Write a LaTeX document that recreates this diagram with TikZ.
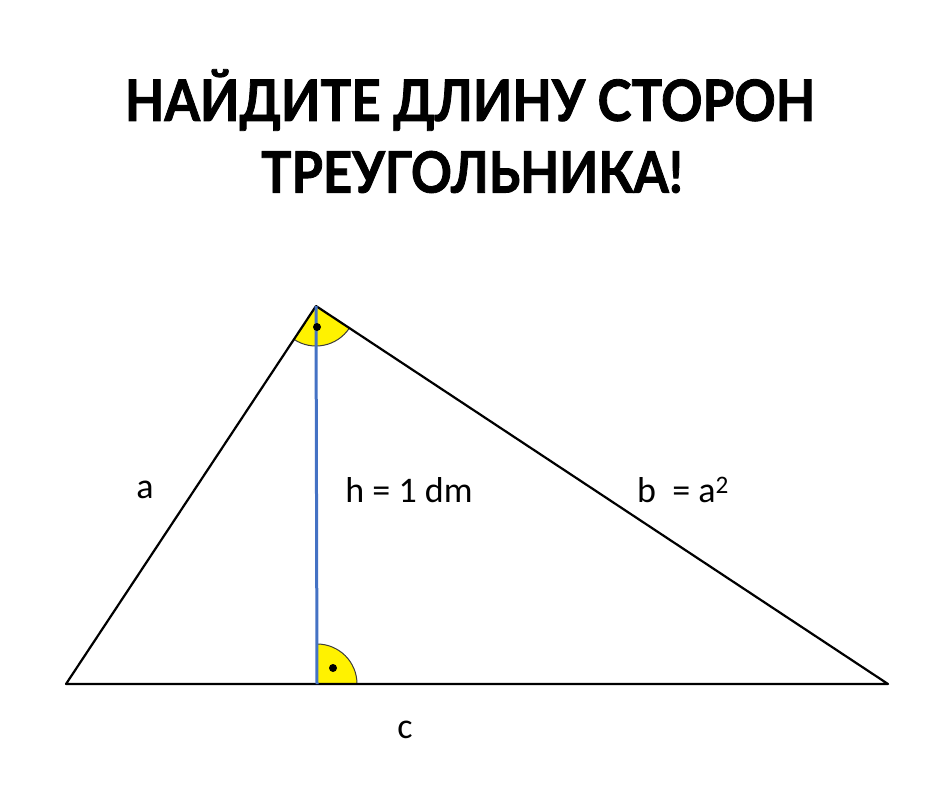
\documentclass[tikz,border=0pt]{standalone}
\usepackage{fontspec}
\setmainfont{Carlito}
\newfontfamily\titlefont{Lato}[BoldFeatures={FakeBold=1.5}]
\definecolor{arcgray}{RGB}{60,60,60}
\definecolor{hblue}{RGB}{68,114,196}
\begin{document}
\begin{tikzpicture}[x=1pt,y=-1pt,
  sideline/.style={line width=2.2pt,black},
  heightline/.style={line width=3pt,hblue},
  arcline/.style={arcgray,line width=1pt},
  lbl/.style={font=\fontsize{36}{42}\selectfont},
  ttl/.style={font=\titlefont\bfseries\fontsize{57}{64}\selectfont}]
\useasboundingbox (0,0) rectangle (940,788);
\coordinate (A) at (316,306);
\coordinate (B) at (66,684);
\coordinate (C) at (888,684);
\coordinate (H) at (317,684);
% angle marks
\fill[yellow] (A) -- ++(33.5:40) arc[start angle=33.5,end angle=123.5,radius=40] -- cycle;
\draw[arcline] (A) ++(33.5:40) arc[start angle=33.5,end angle=123.5,radius=40];
\fill[yellow] (H) -- ++(0:40) arc[start angle=360,end angle=270,radius=40] -- cycle;
\draw[arcline] (H) ++(0:40) arc[start angle=360,end angle=270,radius=40];
% triangle
\draw[sideline,line join=round] (A) -- (B) -- (C) -- cycle;
\draw[heightline] (A) -- (H);
\fill (317,327) circle[radius=4];
\fill (333,668) circle[radius=4];
% labels
\node[lbl] (la) at (145,490) {a};
\node[lbl] (lh) at (409,490) {h = 1 dm};
\node[lbl] (lb) at (683,490) {b\ \ = a\textsuperscript{2}};
\node[lbl] (lc) at (405,730) {c};
% title
\node[ttl] (t1) at (470,100) {\scalebox{0.9}[1]{НАЙДИТЕ ДЛИНУ СТОРОН}};
\node[ttl] (t2) at (472,172) {\scalebox{0.89}[1]{ТРЕУГОЛЬНИКА!}};
\end{tikzpicture}
\end{document}
